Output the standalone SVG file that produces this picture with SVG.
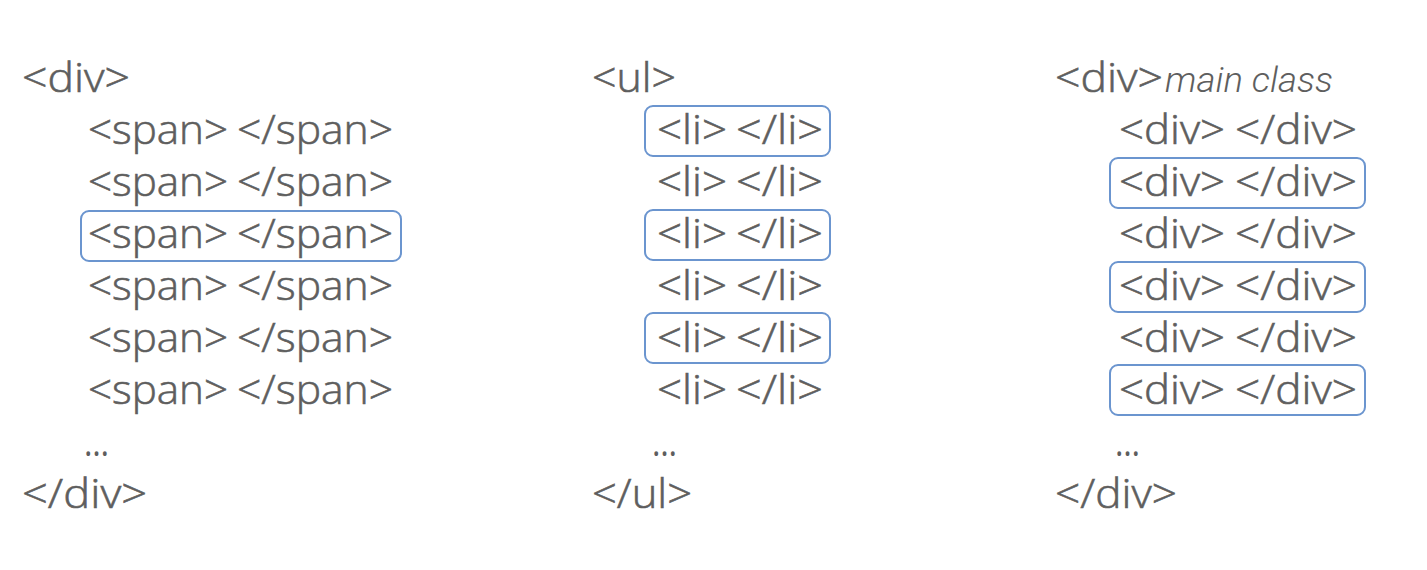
<svg xmlns="http://www.w3.org/2000/svg" width="1427" height="570" viewBox="0 0 1427 570">
<style>
.t{font-family:"Open Sans","Noto Sans","DejaVu Sans",sans-serif;font-size:40px;font-weight:300;fill:#5e5e5e;stroke:#5e5e5e;stroke-width:0.6;}
.d{font-family:"Open Sans","Noto Sans","DejaVu Sans",sans-serif;font-size:36px;font-weight:400;fill:#5e5e5e;}
.i{font-family:Roboto,"Liberation Sans",sans-serif;font-size:35px;font-style:italic;font-weight:300;fill:#5e5e5e;}
.b{fill:none;stroke:#6b95cf;stroke-width:2;}
</style>
<rect width="1427" height="570" fill="#ffffff"/>
<g id="col-div-span">
<text class="t" x="22" y="92" textLength="108" lengthAdjust="spacingAndGlyphs">&lt;div&gt;</text>
<text class="t" y="144"><tspan x="88" textLength="140" lengthAdjust="spacingAndGlyphs">&lt;span&gt;</tspan><tspan x="237" textLength="156" lengthAdjust="spacingAndGlyphs">&lt;/span&gt;</tspan></text>
<text class="t" y="196"><tspan x="88" textLength="140" lengthAdjust="spacingAndGlyphs">&lt;span&gt;</tspan><tspan x="237" textLength="156" lengthAdjust="spacingAndGlyphs">&lt;/span&gt;</tspan></text>
<rect class="b" x="81" y="211" width="320" height="50" rx="8"/>
<text class="t" y="248"><tspan x="88" textLength="140" lengthAdjust="spacingAndGlyphs">&lt;span&gt;</tspan><tspan x="237" textLength="156" lengthAdjust="spacingAndGlyphs">&lt;/span&gt;</tspan></text>
<text class="t" y="300"><tspan x="88" textLength="140" lengthAdjust="spacingAndGlyphs">&lt;span&gt;</tspan><tspan x="237" textLength="156" lengthAdjust="spacingAndGlyphs">&lt;/span&gt;</tspan></text>
<text class="t" y="352"><tspan x="88" textLength="140" lengthAdjust="spacingAndGlyphs">&lt;span&gt;</tspan><tspan x="237" textLength="156" lengthAdjust="spacingAndGlyphs">&lt;/span&gt;</tspan></text>
<text class="t" y="404"><tspan x="88" textLength="140" lengthAdjust="spacingAndGlyphs">&lt;span&gt;</tspan><tspan x="237" textLength="156" lengthAdjust="spacingAndGlyphs">&lt;/span&gt;</tspan></text>
<text class="d" x="84" y="456" textLength="25" lengthAdjust="spacingAndGlyphs">…</text>
<text class="t" x="22" y="508" textLength="125" lengthAdjust="spacingAndGlyphs">&lt;/div&gt;</text>
</g>
<g id="col-ul-li">
<text class="t" x="592" y="92" textLength="84" lengthAdjust="spacingAndGlyphs">&lt;ul&gt;</text>
<rect class="b" x="645" y="106" width="185" height="50" rx="8"/>
<text class="t" y="144"><tspan x="657" textLength="70" lengthAdjust="spacingAndGlyphs">&lt;li&gt;</tspan><tspan x="736" textLength="87" lengthAdjust="spacingAndGlyphs">&lt;/li&gt;</tspan></text>
<text class="t" y="196"><tspan x="657" textLength="70" lengthAdjust="spacingAndGlyphs">&lt;li&gt;</tspan><tspan x="736" textLength="87" lengthAdjust="spacingAndGlyphs">&lt;/li&gt;</tspan></text>
<rect class="b" x="645" y="210" width="185" height="50" rx="8"/>
<text class="t" y="248"><tspan x="657" textLength="70" lengthAdjust="spacingAndGlyphs">&lt;li&gt;</tspan><tspan x="736" textLength="87" lengthAdjust="spacingAndGlyphs">&lt;/li&gt;</tspan></text>
<text class="t" y="300"><tspan x="657" textLength="70" lengthAdjust="spacingAndGlyphs">&lt;li&gt;</tspan><tspan x="736" textLength="87" lengthAdjust="spacingAndGlyphs">&lt;/li&gt;</tspan></text>
<rect class="b" x="645" y="313" width="185" height="50" rx="8"/>
<text class="t" y="352"><tspan x="657" textLength="70" lengthAdjust="spacingAndGlyphs">&lt;li&gt;</tspan><tspan x="736" textLength="87" lengthAdjust="spacingAndGlyphs">&lt;/li&gt;</tspan></text>
<text class="t" y="404"><tspan x="657" textLength="70" lengthAdjust="spacingAndGlyphs">&lt;li&gt;</tspan><tspan x="736" textLength="87" lengthAdjust="spacingAndGlyphs">&lt;/li&gt;</tspan></text>
<text class="d" x="652" y="456" textLength="25" lengthAdjust="spacingAndGlyphs">…</text>
<text class="t" x="592" y="508" textLength="100" lengthAdjust="spacingAndGlyphs">&lt;/ul&gt;</text>
</g>
<g id="col-div-main">
<text class="t" x="1055" y="92" textLength="108" lengthAdjust="spacingAndGlyphs">&lt;div&gt;</text>
<text class="i" x="1165" y="92" textLength="168" lengthAdjust="spacingAndGlyphs">main class</text>
<text class="t" y="144"><tspan x="1119" textLength="106" lengthAdjust="spacingAndGlyphs">&lt;div&gt;</tspan><tspan x="1235" textLength="122" lengthAdjust="spacingAndGlyphs">&lt;/div&gt;</tspan></text>
<rect class="b" x="1110" y="158" width="255" height="50" rx="8"/>
<text class="t" y="196"><tspan x="1119" textLength="106" lengthAdjust="spacingAndGlyphs">&lt;div&gt;</tspan><tspan x="1235" textLength="122" lengthAdjust="spacingAndGlyphs">&lt;/div&gt;</tspan></text>
<text class="t" y="248"><tspan x="1119" textLength="106" lengthAdjust="spacingAndGlyphs">&lt;div&gt;</tspan><tspan x="1235" textLength="122" lengthAdjust="spacingAndGlyphs">&lt;/div&gt;</tspan></text>
<rect class="b" x="1110" y="262" width="255" height="50" rx="8"/>
<text class="t" y="300"><tspan x="1119" textLength="106" lengthAdjust="spacingAndGlyphs">&lt;div&gt;</tspan><tspan x="1235" textLength="122" lengthAdjust="spacingAndGlyphs">&lt;/div&gt;</tspan></text>
<text class="t" y="352"><tspan x="1119" textLength="106" lengthAdjust="spacingAndGlyphs">&lt;div&gt;</tspan><tspan x="1235" textLength="122" lengthAdjust="spacingAndGlyphs">&lt;/div&gt;</tspan></text>
<rect class="b" x="1110" y="365" width="255" height="50" rx="8"/>
<text class="t" y="404"><tspan x="1119" textLength="106" lengthAdjust="spacingAndGlyphs">&lt;div&gt;</tspan><tspan x="1235" textLength="122" lengthAdjust="spacingAndGlyphs">&lt;/div&gt;</tspan></text>
<text class="d" x="1115" y="456" textLength="25" lengthAdjust="spacingAndGlyphs">…</text>
<text class="t" x="1055" y="508" textLength="122" lengthAdjust="spacingAndGlyphs">&lt;/div&gt;</text>
</g>
</svg>
